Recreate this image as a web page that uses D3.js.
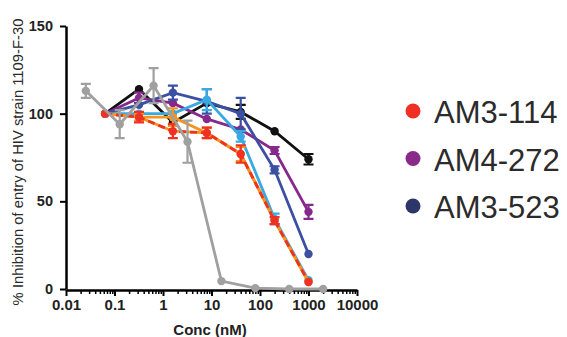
<!DOCTYPE html>
<meta charset="utf-8">
<style>
  body { margin: 0; background: #fff; }
  svg { display: block; font-family: Arial, "Liberation Sans", sans-serif; }
  .axis path, .axis line { stroke: #000; }
</style>
<body>
<svg width="567" height="337"></svg>

<script src="https://cdn.jsdelivr.net/npm/d3@7"></script>
<script>

// concentrations (nM), 5-fold dilutions
var conc = [0.064, 0.32, 1.6, 8, 40, 200, 1000];
var concGrey = [0.0256, 0.128, 0.64, 3.2, 16, 80, 400, 2000];

// % inhibition, with error bar half-widths
var blackVals = [100, 114, 95, 106, 101, 90, 74];
var blackErr  = [0, 0, 0, 0, 4, 0, 3];
var purpleVals = [100, 109, 106, 97, 91, 79, 44];
var purpleErr  = [0, 3, 0, 0, 0, 2, 4];
var navyVals = [100, 105, 112, 107, 100, 68, 20];
var navyErr  = [0, 0, 4, 7, 9, 2, 0];
var lightVals = [100, 100, 100, 108, 87, 40, 5];
var lightErr  = [0, 0, 0, 6, 3, 3, 0];
var orangeVals = [100, 98, 98, 89, 77, 39, 4];
var orangeErr  = [0, 2, 5, 3, 4, 0, 0];
var redVals = [100, 98, 90, 89, 77, 39, 4];
var redErr  = [0, 3, 4, 3, 5, 2, 0];
var greyVals = [113, 94, 116, 84, 4.5, 0.5, 0, 0];
var greyErr  = [4, 8, 10, 12, 0, 0, 0, 0];

var xTicks = [0.01, 0.1, 1, 10, 100, 1000, 10000];
var yTicks = [0, 50, 100, 150];

var legendNames = ["AM3-114", "AM4-272", "AM3-523"];
var legendColors = ["#ee3124", "#8a2a88", "#2e3568"];

var series = [
  { x: conc, y: blackVals, e: blackErr, color: "#111111" },
  { x: conc, y: purpleVals, e: purpleErr, color: "#86288c" },
  { x: conc, y: navyVals, e: navyErr, color: "#3b4fa3" },
  { x: conc, y: lightVals, e: lightErr, color: "#39a9e1" },
  { x: conc, y: orangeVals, e: orangeErr, color: "#f7941d" },
  { x: conc, y: redVals, e: redErr, color: "#ee3124", dash: "7,4" },
  { x: concGrey, y: greyVals, e: greyErr, color: "#a0a0a0" }
];

var svg = d3.select("svg");

var x = d3.scaleLog().domain([0.01, 10000]).range([66, 357]);
var y = d3.scaleLinear().domain([0, 150]).range([289, 26]);

// x axis: decades plus minor ticks
var minor = [];
xTicks.slice(0, -1).forEach(function(d) {
  for (var k = 2; k <= 9; k++) minor.push(d * k);
});

svg.append("g")
    .attr("class", "axis")
    .attr("transform", "translate(0,290)")
    .call(d3.axisBottom(x).tickValues(minor).tickSize(4).tickFormat(""))
    .call(function(g) { g.select(".domain").remove(); })
    .selectAll("line").attr("stroke-width", 1.5);

var xAxis = svg.append("g")
    .attr("class", "axis")
    .attr("transform", "translate(0,290)")
    .call(d3.axisBottom(x).tickValues(xTicks).tickSize(6).tickSizeOuter(0)
      .tickFormat(function(d) { return d3.format("")(d); }));
xAxis.select(".domain").attr("stroke-width", 2.5);
xAxis.selectAll("line").attr("stroke-width", 2);
xAxis.selectAll("text")
    .attr("y", 9)
    .attr("fill", "#222")
    .style("font-size", "15px")
    .style("font-weight", "bold");

var yAxis = svg.append("g")
    .attr("class", "axis")
    .attr("transform", "translate(66,0)")
    .call(d3.axisLeft(y).tickValues(yTicks).tickSize(6).tickSizeOuter(0));
yAxis.select(".domain").attr("stroke-width", 2.5);
yAxis.selectAll("line").attr("stroke-width", 2);
yAxis.selectAll("text")
    .attr("x", -13)
    .attr("fill", "#222")
    .style("font-size", "14.5px")
    .style("font-weight", "bold");

// axis titles
svg.append("text")
    .attr("x", 210)
    .attr("y", 335)
    .attr("text-anchor", "middle")
    .attr("fill", "#222")
    .style("font-size", "15px")
    .style("font-weight", "bold")
    .text("Conc (nM)");

svg.append("text")
    .attr("transform", "translate(23,162) rotate(-90)")
    .attr("text-anchor", "middle")
    .attr("fill", "#2a2a2a")
    .style("font-size", "14.8px")
    .text("% Inhibition of entry of HIV strain 1109-F-30");

// series
var line = d3.line()
    .x(function(d) { return x(d[0]); })
    .y(function(d) { return y(d[1]); });

series.forEach(function(s) {
  var pts = s.x.map(function(c, i) { return [c, s.y[i], s.e[i]]; });
  var g = svg.append("g");

  if (s.dash) {
    // dashed series sits on a solid orange line
    g.append("path")
        .attr("d", line(pts))
        .attr("fill", "none")
        .attr("stroke", "#f7941d")
        .attr("stroke-width", 2.8);
  }

  g.append("path")
      .attr("d", line(pts))
      .attr("fill", "none")
      .attr("stroke", s.color)
      .attr("stroke-width", 2.8)
      .attr("stroke-dasharray", s.dash || null);

  var bars = pts.filter(function(d) { return d[2] > 0; });
  g.selectAll(".eb").data(bars).enter().append("path")
      .attr("d", function(d) {
        var cx = x(d[0]), y0 = y(d[1] - d[2]), y1 = y(d[1] + d[2]);
        return "M" + cx + "," + y0 + "V" + y1 +
               "M" + (cx - 5) + "," + y0 + "H" + (cx + 5) +
               "M" + (cx - 5) + "," + y1 + "H" + (cx + 5);
      })
      .attr("fill", "none")
      .attr("stroke", s.color)
      .attr("stroke-width", 2.2);

  g.selectAll("circle").data(pts).enter().append("circle")
      .attr("cx", function(d) { return x(d[0]); })
      .attr("cy", function(d) { return y(d[1]); })
      .attr("r", 4.2)
      .attr("fill", s.color);
});

// legend
var legend = svg.append("g");
legendNames.forEach(function(name, i) {
  var cy = 111 + i * 47.5;
  legend.append("circle")
      .attr("cx", 413)
      .attr("cy", cy)
      .attr("r", 7.5)
      .attr("fill", legendColors[i]);
  legend.append("text")
      .attr("x", 434)
      .attr("y", cy + 12)
      .attr("fill", "#2b2b2b")
      .style("font-size", "31px")
      .text(name);
});

</script>
</body>
